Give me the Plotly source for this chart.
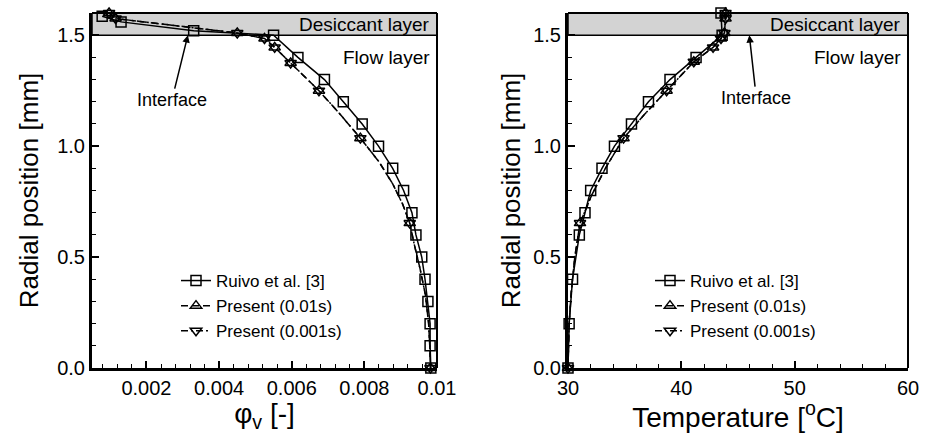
import plotly.graph_objects as go

# ---------------- data ----------------
# Left panel: vapour mass fraction phi_v vs radial position
ruivo_phi_x = [0.00078, 0.0013, 0.0033, 0.0055, 0.00617, 0.0069, 0.00742, 0.00794,
               0.00839, 0.00878, 0.00908, 0.00931, 0.00942, 0.00958, 0.00967,
               0.00975, 0.00981, 0.00981, 0.00983]
ruivo_phi_y = [1.585, 1.56, 1.52, 1.50, 1.40, 1.30, 1.20, 1.10, 1.00, 0.90, 0.80,
               0.70, 0.60, 0.50, 0.40, 0.30, 0.20, 0.10, 0.00]

present_phi_x = [0.00097, 0.00115, 0.0045, 0.00525, 0.00553, 0.00597, 0.00675, 0.00735,
                 0.00789, 0.0084, 0.00878, 0.00905, 0.00925, 0.00937, 0.00953, 0.00968,
                 0.00977, 0.0098, 0.00982]
present_phi_y = [1.600, 1.575, 1.510, 1.485, 1.445, 1.375, 1.250, 1.140, 1.036, 0.930,
                 0.830, 0.740, 0.653, 0.560, 0.450, 0.330, 0.200, 0.100, 0.000]
present_phi_mark = [0, 1, 2, 3, 4, 5, 6, 8, 12, 18]

# Right panel: temperature vs radial position
ruivo_T_x = [43.5, 43.6, 41.3, 39.0, 37.1, 35.6, 34.1, 33.0, 32.0, 31.5, 31.0, 30.4, 30.1, 30.0]
ruivo_T_y = [1.60, 1.50, 1.40, 1.30, 1.20, 1.10, 1.00, 0.90, 0.80, 0.70, 0.60, 0.40, 0.20, 0.00]

present_T_x = [43.9, 43.9, 43.8, 43.5, 42.8, 41.1, 38.7, 36.7, 34.9, 33.3, 32.1, 31.06,
               30.6, 30.3, 30.1, 30.0]
present_T_y = [1.600, 1.575, 1.510, 1.485, 1.445, 1.380, 1.250, 1.140, 1.036, 0.900,
               0.780, 0.653, 0.500, 0.350, 0.200, 0.000]
present_T_mark = [0, 1, 2, 3, 4, 5, 6, 8, 11, 15]

series_names = ["Ruivo et al. [3]", "Present (0.01s)", "Present (0.001s)"]

y_tickvals = [0.0, 0.5, 1.0, 1.5]
y_ticktext = ["0.0", "0.5", "1.0", "1.5"]
phi_tickvals = [0.002, 0.004, 0.006, 0.008, 0.01]
phi_ticktext = ["0.002", "0.004", "0.006", "0.008", "0.01"]
T_tickvals = [30, 40, 50, 60]
T_ticktext = ["30", "40", "50", "60"]

desiccant_y = [1.5, 1.6]
interface_phi = 0.00314
interface_T = 46.0

# ---------------- styling ----------------
FONT = "Liberation Sans, Arial, sans-serif"
BLACK = "black"
LW = 1.5
MS = 10
dash_styles = ["solid", "7px,4px", "7px,3px,2px,3px"]
symbols = ["square-open", "triangle-up-open", "triangle-down-open"]

fig = go.Figure()


def add_panel(xa, ya, legend, rx, ry, px, py, mark_idx):
    # Ruivo: line + markers at every point
    fig.add_trace(go.Scatter(
        x=rx, y=ry, mode="lines+markers", name=series_names[0],
        line=dict(color=BLACK, width=LW, dash=dash_styles[0]),
        marker=dict(symbol=symbols[0], size=MS, color=BLACK, line=dict(width=LW, color=BLACK)),
        xaxis=xa, yaxis=ya, legend=legend, cliponaxis=False, showlegend=True))
    # Present series: lines through all points, markers on the subset
    for k in (1, 2):
        fig.add_trace(go.Scatter(
            x=px, y=py, mode="lines", line=dict(color=BLACK, width=LW, dash=dash_styles[k]),
            xaxis=xa, yaxis=ya, showlegend=False, cliponaxis=False, hoverinfo="skip"))
        fig.add_trace(go.Scatter(
            x=[px[i] for i in mark_idx], y=[py[i] for i in mark_idx], mode="markers",
            marker=dict(symbol=symbols[k], size=MS, color=BLACK, line=dict(width=LW, color=BLACK)),
            xaxis=xa, yaxis=ya, showlegend=False, cliponaxis=False))
        # legend entry
        fig.add_trace(go.Scatter(
            x=[None], y=[None], mode="lines+markers", name=series_names[k],
            line=dict(color=BLACK, width=LW, dash=dash_styles[k]),
            marker=dict(symbol=symbols[k], size=MS, color=BLACK, line=dict(width=LW, color=BLACK)),
            xaxis=xa, yaxis=ya, legend=legend, showlegend=True))


add_panel("x", "y", "legend", ruivo_phi_x, ruivo_phi_y, present_phi_x, present_phi_y, present_phi_mark)
add_panel("x2", "y2", "legend2", ruivo_T_x, ruivo_T_y, present_T_x, present_T_y, present_T_mark)

W, H = 934, 433
ML, MR, MT, MB = 92, 26, 13, 65
PW = W - ML - MR
PH = H - MT - MB


def dom(a, b):
    return [(a - ML) / PW, (b - ML) / PW]


tickfont = dict(family=FONT, size=20, color=BLACK)
ytitlefont = dict(family=FONT, size=26, color=BLACK)
xtitlefont = dict(family=FONT, size=28, color=BLACK)

common_axis = dict(showline=True, linewidth=3, linecolor=BLACK, mirror=False,
                   ticks="inside", ticklen=7, tickwidth=1.5, tickcolor=BLACK,
                   showgrid=False, zeroline=False, tickfont=tickfont, automargin=False)

yaxis_common = dict(common_axis, range=[0, 1.6], tickmode="array",
                    tickvals=y_tickvals, ticktext=y_ticktext,
                    minor=dict(dtick=0.1, tick0=0, ticks="inside", ticklen=4,
                               tickwidth=1.2, tickcolor=BLACK, showgrid=False))

legend_common = dict(xanchor="left", yanchor="top", bgcolor="rgba(0,0,0,0)",
                     font=dict(family=FONT, size=17, color=BLACK), tracegroupgap=0)

fig.update_layout(
    width=W, height=H, margin=dict(l=ML, r=MR, t=MT, b=MB, autoexpand=False),
    paper_bgcolor="white", plot_bgcolor="white",
    font=dict(family=FONT, color=BLACK),
    xaxis=dict(common_axis, domain=dom(92, 437), range=[0.0005, 0.01], anchor="y",
               tickmode="array", tickvals=phi_tickvals, ticktext=phi_ticktext,
               minor=dict(dtick=0.0004, tick0=0, ticks="inside", ticklen=4,
                          tickwidth=1.2, tickcolor=BLACK, showgrid=False),
               title=dict(text="φ<sub>v</sub> [-]", font=xtitlefont, standoff=13)),
    yaxis=dict(yaxis_common, domain=[0, 1], anchor="x",
               title=dict(text="Radial position [mm]", font=ytitlefont, standoff=12)),
    xaxis2=dict(common_axis, domain=dom(568, 908), range=[30, 60], anchor="y2",
                tickmode="array", tickvals=T_tickvals, ticktext=T_ticktext,
                minor=dict(dtick=2, tick0=30, ticks="inside", ticklen=4,
                           tickwidth=1.2, tickcolor=BLACK, showgrid=False),
                title=dict(text="Temperature [<sup>o</sup>C]", font=xtitlefont, standoff=13)),
    yaxis2=dict(yaxis_common, domain=[0, 1], anchor="x2",
                title=dict(text="Radial position [mm]", font=ytitlefont, standoff=6)),
    legend=dict(legend_common, x=(176 - ML) / PW, y=1 - (263 - MT) / PH),
    legend2=dict(legend_common, x=(650 - ML) / PW, y=1 - (263 - MT) / PH),
    showlegend=True,
)

shapes = []
annotations = []
for xa, ya, tip_x, ax, ay in (("x", "y", interface_phi, -16, 65), ("x2", "y2", interface_T, 7, 63)):
    shapes.append(dict(type="rect", xref=f"{xa} domain", yref=ya, x0=0, x1=1,
                       y0=desiccant_y[0], y1=desiccant_y[1], fillcolor="#d3d3d3",
                       line=dict(color=BLACK, width=1.5), layer="below"))
    # top and right box lines
    shapes.append(dict(type="line", xref=f"{xa} domain", yref=f"{ya} domain",
                       x0=0, x1=1, y0=1, y1=1, line=dict(color=BLACK, width=2)))
    shapes.append(dict(type="line", xref=f"{xa} domain", yref=f"{ya} domain",
                       x0=1, x1=1, y0=0, y1=1, line=dict(color=BLACK, width=2)))
    annotations.append(dict(xref=f"{xa} domain", yref=ya, x=0.985, y=1.55,
                            text="Desiccant layer", showarrow=False, xanchor="right",
                            yanchor="middle", font=dict(family=FONT, size=19, color=BLACK)))
    annotations.append(dict(xref=f"{xa} domain", yref=ya, x=0.985, y=1.40,
                            text="Flow layer", showarrow=False, xanchor="right",
                            yanchor="middle", font=dict(family=FONT, size=19, color=BLACK)))
    annotations.append(dict(xref=xa, yref=ya, x=tip_x, y=1.5, ax=ax, ay=ay,
                            text="Interface", showarrow=True, arrowhead=2, arrowsize=1,
                            arrowwidth=1.5, arrowcolor=BLACK, standoff=0,
                            font=dict(family=FONT, size=18, color=BLACK)))

fig.update_layout(shapes=shapes, annotations=annotations)

fig.write_html("out.html")
